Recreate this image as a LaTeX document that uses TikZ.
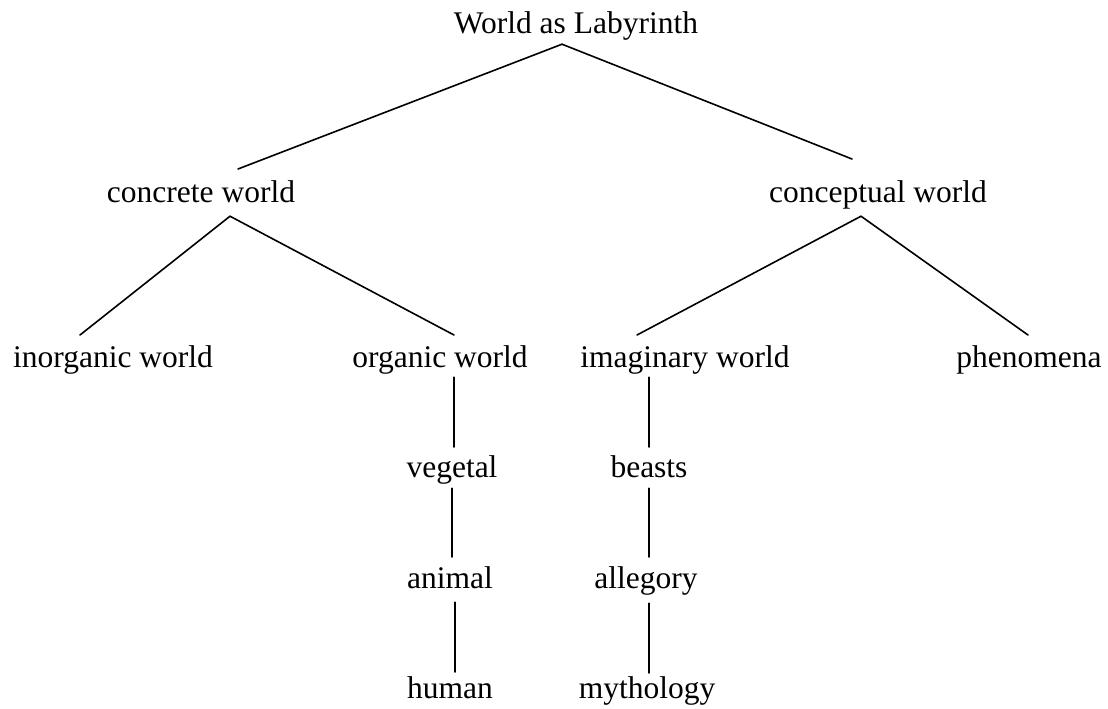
\documentclass[tikz,border=0pt]{standalone}
\usepackage{fontspec}
\setmainfont{Liberation Serif}
\usepackage{tikz}
\usetikzlibrary{calc}
\tikzset{
  term/.style={anchor=base, inner sep=0pt, text height=11.8pt, text depth=3.9pt,
    font=\fontsize{15.75}{18}\selectfont},
  branch/.style={line width=0.8pt, color=black, line cap=round}
}

\begin{document}
\begin{tikzpicture}[x=0.5pt, y=-0.5pt]
  \useasboundingbox (0,0) rectangle (1108,708);
  % Root
  \node[term] (root) at (576,33) {World as Labyrinth};
  % Second level
  \node[term] (concrete) at (201,202) {concrete world};
  \node[term] (conceptual) at (878,202) {conceptual world};
  % Third level
  \node[term] (inorganic) at (113,367) {inorganic world};
  \node[term] (organic) at (440,367) {organic world};
  \node[term] (imaginary) at (685,367) {imaginary world};
  \node[term] (phenomena) at (1029,367) {phenomena};
  % Chain under organic world
  \node[term] (vegetal) at (452,477) {vegetal};
  \node[term] (animal) at (450,588) {animal};
  \node[term] (human) at (450,698) {human};
  % Chain under imaginary world
  \node[term] (beasts) at (649,477) {beasts};
  \node[term] (allegory) at (646,588) {allegory};
  \node[term] (mythology) at (647,698) {mythology};
  % Branches from root
  \draw[branch] ($(root.south)+(-14,3)$) -- ($(concrete.north)+(37,-9)$);
  \draw[branch] ($(root.south)+(-14,3)$) -- ($(conceptual.north)+(-26,-19)$);
  % Branches from concrete world
  \draw[branch] ($(concrete.south)+(29,6)$) -- ($(inorganic.north)+(-33,-8)$);
  \draw[branch] ($(concrete.south)+(29,6)$) -- ($(organic.north)+(14,-8)$);
  % Branches from conceptual world
  \draw[branch] ($(conceptual.south)+(-17,6)$) -- ($(imaginary.north)+(-48,-8)$);
  \draw[branch] ($(conceptual.south)+(-17,6)$) -- ($(phenomena.north)+(-1,-8)$);
  % Vertical chains
  \draw[branch] ($(organic.south)+(14,2)$) -- ($(vegetal.north)+(2,-6)$);
  \draw[branch] ($(vegetal.south)+(0,3)$) -- ($(animal.north)+(2,-7)$);
  \draw[branch] ($(animal.south)+(5,6)$) -- ($(human.north)+(5,-2)$);
  \draw[branch] ($(imaginary.south)+(-36,2)$) -- ($(beasts.north)+(0,-6)$);
  \draw[branch] ($(beasts.south)+(0,3)$) -- ($(allegory.north)+(3,-7)$);
  \draw[branch] ($(allegory.south)+(3,7)$) -- ($(mythology.north)+(2,-1)$);
\end{tikzpicture}
\end{document}
